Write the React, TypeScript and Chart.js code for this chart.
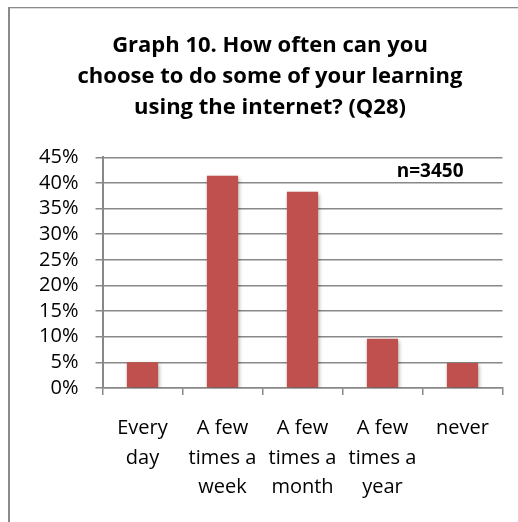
import React, { useEffect, useRef } from "react";
import { Chart, registerables } from "chart.js";

Chart.register(...registerables);

const categories: string[][] = [
  ["Every", "day"],
  ["A few", "times a", "week"],
  ["A few", "times a", "month"],
  ["A few", "times a", "year"],
  ["never"],
];
const percentages: number[] = [5.0, 41.4, 38.3, 9.6, 4.9];
const titleLines: string[] = [
  "Graph 10. How often can you",
  "choose to do some of your learning",
  "using the internet? (Q28)",
];
const sampleLabel = "n=3450";
const yMax = 45;
const yStep = 5;

const FONT = "'Open Sans'";

const framePlugin = {
  id: "frame",
  beforeDraw(chart: any) {
    const ctx = chart.ctx;
    ctx.save();
    ctx.fillStyle = "#ffffff";
    ctx.fillRect(0, 0, chart.width, chart.height);
    ctx.fillStyle = "#8a8a8a";
    ctx.fillRect(8, 7, 2, chart.height - 7);
    ctx.fillRect(8, 7, chart.width - 8, 1.3);
    ctx.restore();
  },
};

const titlePlugin = {
  id: "titleText",
  afterDraw(chart: any) {
    const ctx = chart.ctx;
    ctx.save();
    ctx.font = `bold 22px ${FONT}`;
    ctx.fillStyle = "#000000";
    ctx.textAlign = "center";
    ctx.textBaseline = "alphabetic";
    titleLines.forEach((line, i) => {
      ctx.fillText(line, 270, 51.5 + i * 31);
    });
    ctx.restore();
  },
};

const shadowPlugin = {
  id: "barShadow",
  beforeDatasetsDraw(chart: any) {
    const ctx = chart.ctx;
    ctx.save();
    ctx.shadowColor = "rgba(0,0,0,0.35)";
    ctx.shadowBlur = 4;
    ctx.shadowOffsetX = 1;
    ctx.shadowOffsetY = 2;
  },
  afterDatasetsDraw(chart: any) {
    chart.ctx.restore();
  },
};

const sampleLabelPlugin = {
  id: "sampleLabel",
  afterDraw(chart: any) {
    const ctx = chart.ctx;
    const area = chart.chartArea;
    const y = chart.scales.y;
    ctx.save();
    ctx.font = `bold 19px ${FONT}`;
    ctx.fillStyle = "#000000";
    ctx.textAlign = "right";
    ctx.textBaseline = "alphabetic";
    ctx.fillText(sampleLabel, area.right - 39, y.getPixelForValue(40) - 6.3);
    ctx.restore();
  },
};

export default function App() {
  const ref = useRef<HTMLCanvasElement | null>(null);

  useEffect(() => {
    if (!ref.current) return;
    const chart = new Chart(ref.current, {
      type: "bar",
      data: {
        labels: categories,
        datasets: [
          {
            data: percentages,
            backgroundColor: "#C0504D",
            borderWidth: 0,
            barPercentage: 0.39,
            categoryPercentage: 1,
          },
        ],
      },
      options: {
        animation: false,
        responsive: false,
        maintainAspectRatio: false,
        layout: { padding: { left: 0, right: 15.5, top: 157.3, bottom: 0 } },
        plugins: {
          legend: { display: false },
          tooltip: { enabled: false },
          title: { display: false },
        },
        scales: {
          x: {
            afterFit: (s: any) => {
              s.height = 134;
            },
            grid: {
              display: true,
              drawOnChartArea: false,
              drawTicks: true,
              tickLength: 7,
              color: "#888888",
              lineWidth: 1.5,
              offset: true,
            },
            border: { display: true, color: "#888888", width: 1.5 },
            ticks: {
              color: "#000000",
              font: { family: FONT, size: 20, lineHeight: 1.475 },
              padding: 19,
              maxRotation: 0,
              autoSkip: false,
            },
          },
          y: {
            min: 0,
            max: yMax,
            afterFit: (s: any) => {
              s.width = 102.5;
            },
            grid: {
              color: "#888888",
              lineWidth: 1.5,
              drawTicks: true,
              tickLength: 7,
            },
            border: { display: true, color: "#888888", width: 2 },
            ticks: {
              stepSize: yStep,
              autoSkip: false,
              color: "#000000",
              font: { family: FONT, size: 20 },
              padding: 17,
              callback: (v: any) => `${v}%`,
            },
          },
        },
      },
      plugins: [framePlugin, shadowPlugin, sampleLabelPlugin, titlePlugin],
    });
    return () => chart.destroy();
  }, []);

  return (
    <canvas
      ref={ref}
      width={518}
      height={522}
      style={{ position: "absolute", left: 0, top: 0, width: 518, height: 522 }}
    />
  );
}
